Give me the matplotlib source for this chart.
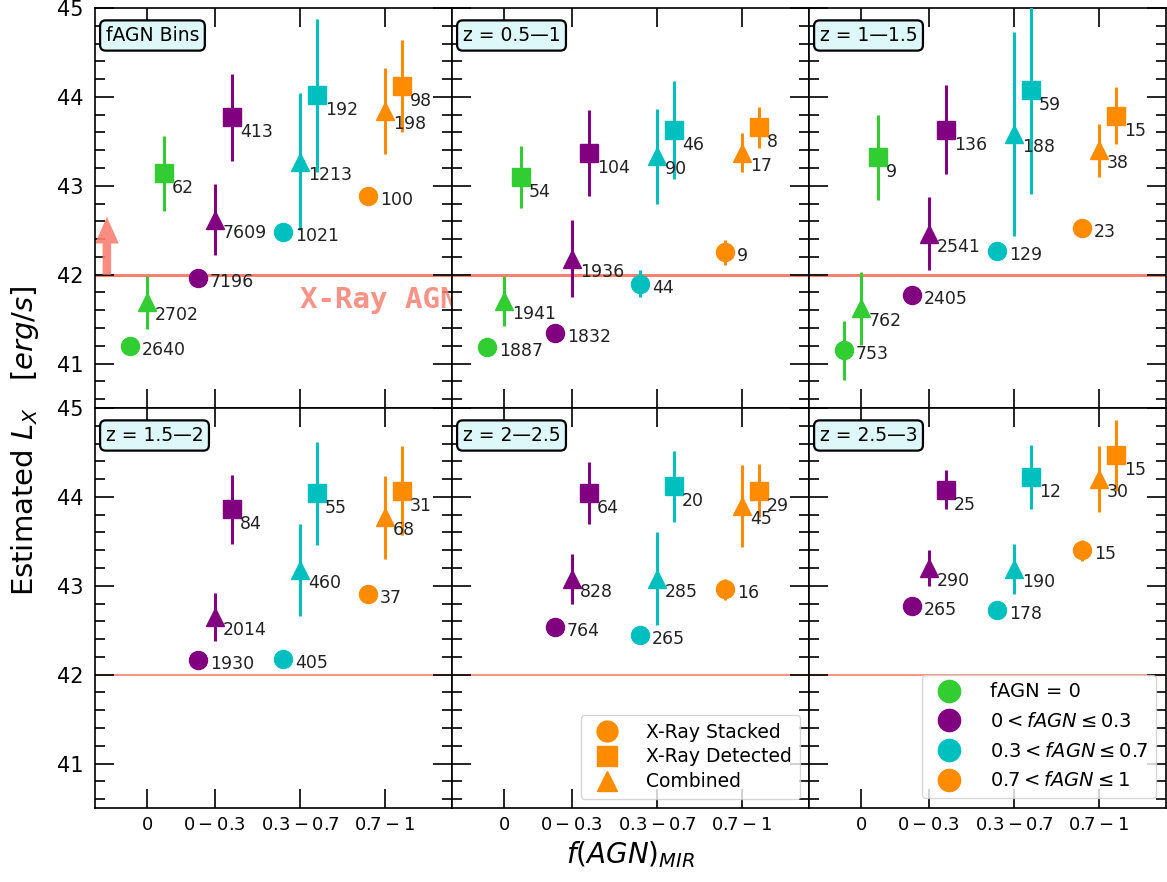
import matplotlib.pyplot as plt
from matplotlib.lines import Line2D
from matplotlib.ticker import MultipleLocator

# fAGN bins and where they sit on the x axis
bin_labels = ['$0$', '$0-0.3$', '$0.3-0.7$', '$0.7-1$']
bin_x = [0, 0.8, 1.8, 2.8]
bin_colors = ['limegreen', 'purple', 'c', 'darkorange']

panel_titles = ['fAGN Bins', 'z = 0.5\u20141', 'z = 1\u20141.5',
                'z = 1.5\u20142', 'z = 2\u20142.5', 'z = 2.5\u20143']

# X-ray stacked (circles), one row per panel, one value per fAGN bin (None = no data)
stacked_lx = [[41.20, 41.96, 42.48, 42.88],
              [41.19, 41.34, 41.90, 42.25],
              [41.15, 41.77, 42.27, 42.52],
              [None, 42.16, 42.18, 42.91],
              [None, 42.54, 42.45, 42.96],
              [None, 42.77, 42.73, 43.40]]
stacked_err = [[0, 0, 0, 0],
               [0, 0, 0.15, 0.14],
               [0.33, 0, 0, 0],
               [None, 0, 0, 0],
               [None, 0, 0, 0.12],
               [None, 0, 0.10, 0.12]]
stacked_n = [[2640, 7196, 1021, 100],
             [1887, 1832, 44, 9],
             [753, 2405, 129, 23],
             [None, 1930, 405, 37],
             [None, 764, 265, 16],
             [None, 265, 178, 15]]

# X-ray detected (squares)
detected_lx = [[43.14, 43.77, 44.02, 44.12],
               [43.10, 43.37, 43.63, 43.66],
               [43.32, 43.63, 44.08, 43.79],
               [None, 43.86, 44.04, 44.07],
               [None, 44.04, 44.12, 44.07],
               [None, 44.08, 44.22, 44.47]]
detected_err = [[0.42, 0.49, 0.86, 0.52],
                [0.35, 0.48, 0.55, 0.23],
                [0.48, 0.50, 1.17, 0.32],
                [None, 0.39, 0.58, 0.50],
                [None, 0.35, 0.40, 0.30],
                [None, 0.22, 0.36, 0.40]]
detected_n = [[62, 413, 192, 98],
              [54, 104, 46, 8],
              [9, 136, 59, 15],
              [None, 84, 55, 31],
              [None, 64, 20, 29],
              [None, 25, 12, 15]]

# stacked + detected combined (triangles)
combined_lx = [[41.69, 42.62, 43.27, 43.84],
               [41.70, 42.18, 43.33, 43.37],
               [41.62, 42.46, 43.58, 43.40],
               [None, 42.65, 43.18, 43.77],
               [None, 43.08, 43.08, 43.90],
               [None, 43.20, 43.19, 44.20]]
combined_err = [[0.30, 0.40, 0.77, 0.48],
                [0.28, 0.43, 0.53, 0.22],
                [0.41, 0.41, 1.15, 0.30],
                [None, 0.27, 0.52, 0.47],
                [None, 0.28, 0.52, 0.46],
                [None, 0.20, 0.28, 0.37]]
combined_n = [[2702, 7609, 1213, 198],
              [1941, 1936, 90, 17],
              [762, 2541, 188, 38],
              [None, 2014, 460, 68],
              [None, 828, 285, 45],
              [None, 290, 190, 30]]

xray_agn_limit = 42.0

# marker, x shift, marker size, label offset (pixels) for each sample
samples = [
    ('o', -0.2, 13, (12, -4), stacked_lx, stacked_err, stacked_n),
    ('s', 0.2, 13, (8, -15), detected_lx, detected_err, detected_n),
    ('^', 0.0, 13, (8, -13), combined_lx, combined_err, combined_n),
]

fig, axes = plt.subplots(2, 3, figsize=(11.67, 8.82), dpi=100, sharex=True, sharey=True)
plt.subplots_adjust(left=95/1167, right=1166/1167, bottom=1-808/882, top=1-8/882,
                    wspace=0, hspace=0)

for p, ax in enumerate(axes.flat):
    line_w = 2.2 if p < 3 else 1.2
    ax.axhline(xray_agn_limit, color='salmon', lw=line_w, zorder=1)

    for marker, shift, ms, offset, lx, err, nums in samples:
        for b in range(4):
            if lx[p][b] is None:
                continue
            x = bin_x[b] + shift
            ax.errorbar(x, lx[p][b], yerr=err[p][b], fmt=marker, color=bin_colors[b],
                        ms=ms, elinewidth=2.2, capsize=0, zorder=3)
            ax.annotate(str(nums[p][b]), (x, lx[p][b]), xytext=offset,
                        textcoords='offset pixels', ha='left', va='center',
                        fontsize=12.5, color='#222222', zorder=4)

    ax.text(0.03, 0.955, panel_titles[p], transform=ax.transAxes, ha='left', va='top',
            fontsize=13.5, zorder=5,
            bbox=dict(boxstyle='round,pad=0.3', facecolor='#def7f8', edgecolor='black', lw=1.6))

    ax.set_xlim(-0.61, 3.59)
    ax.set_ylim(40.5, 45)
    ax.set_xticks(bin_x)
    ax.set_xticklabels(bin_labels)
    ax.yaxis.set_major_locator(MultipleLocator(1))
    ax.yaxis.set_minor_locator(MultipleLocator(0.2))
    ax.tick_params(which='both', direction='in', top=True, right=True, width=1.2)
    ax.tick_params(which='major', length=14)
    ax.tick_params(which='minor', length=7)
    ax.tick_params(axis='y', labelsize=15, pad=8)
    ax.tick_params(axis='x', labelsize=13, pad=6)
    for s in ax.spines.values():
        s.set_linewidth(1.2)

# threshold arrow and label in the first panel
ax0 = axes[0, 0]
ax0.arrow(-0.47, xray_agn_limit, 0, 0.65, width=0.1, head_width=0.28, head_length=0.3,
          length_includes_head=True, color='salmon', alpha=0.9, lw=0, zorder=2)
ax0.text(1.8, 41.72, 'X-Ray AGN', color='salmon', alpha=0.85, fontsize=21,
         family='DejaVu Sans Mono', fontweight='bold', ha='left', va='center', clip_on=False)

# legends: sample type (marker) and fAGN bin (colour)
type_handles = [Line2D([], [], ls='', marker=m, ms=15, color='darkorange') for m in ['o', 's', '^']]
axes[1, 1].legend(type_handles, ['X-Ray Stacked', 'X-Ray Detected', 'Combined'],
                  loc='lower right', fontsize=13.5, labelspacing=0.3, handletextpad=1.1)

bin_handles = [Line2D([], [], ls='', marker='o', ms=16, color=c) for c in bin_colors]
axes[1, 2].legend(bin_handles, ['fAGN = 0', r'$0 < fAGN \leq 0.3$',
                                r'$0.3 < fAGN \leq 0.7$', r'$0.7 < fAGN \leq 1$'],
                  loc='lower right', fontsize=14, labelspacing=0.55, handletextpad=1.1)

fig.text(0.021, 0.5, 'Estimated $L_X$   [$erg/s$]', rotation=90, ha='center', va='center',
         fontsize=21)
fig.text(0.54, 0.031, '$f(AGN)_{MIR}$', ha='center', va='center', fontsize=20)

fig.savefig('out.png', dpi=100)
